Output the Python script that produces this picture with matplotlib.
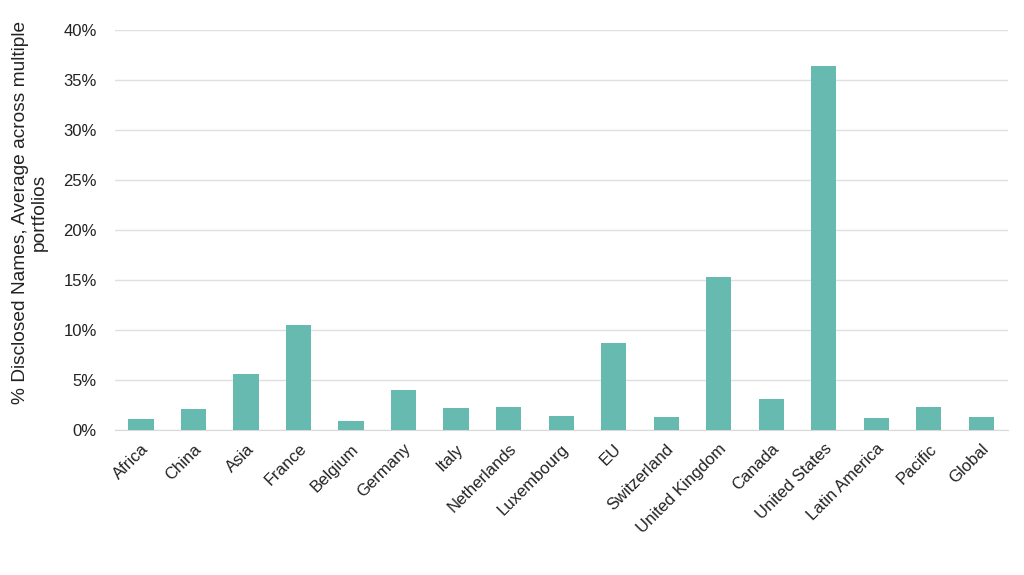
import matplotlib
matplotlib.use("Agg")
import matplotlib.pyplot as plt
from matplotlib.ticker import PercentFormatter

regions = ["Africa", "China", "Asia", "France", "Belgium", "Germany", "Italy",
           "Netherlands", "Luxembourg", "EU", "Switzerland", "United Kingdom",
           "Canada", "United States", "Latin America", "Pacific", "Global"]
disclosed = [1.1, 2.1, 5.65, 10.5, 0.9, 4.0, 2.2, 2.3, 1.45, 8.7, 1.3, 15.3,
             3.15, 36.4, 1.2, 2.3, 1.3]

plt.rcParams['font.family'] = ['Liberation Sans', 'DejaVu Sans']

fig = plt.figure(figsize=(10.24, 5.75), dpi=100)
ax = fig.add_axes([0.112, 0.252, 0.872, 0.696])

x = range(len(regions))
ax.bar(x, disclosed, width=0.48, color='#66bab0', zorder=3)

ax.set_xlim(-0.5, len(regions) - 0.5)
ax.set_ylim(0, 40)
ax.set_yticks(range(0, 41, 5))
ax.yaxis.set_major_formatter(PercentFormatter(decimals=0))
ax.grid(axis='y', color='#e0e0e0', linewidth=1, zorder=0)

ax.set_xticks(list(x))
ax.set_xticklabels(regions, rotation=45, ha='right', rotation_mode='anchor')
ax.tick_params(axis='both', length=0, labelsize=12, colors='#222222')
ax.tick_params(axis='x', pad=8)
ax.tick_params(axis='y', pad=13)

for s in ['top', 'right', 'left']:
    ax.spines[s].set_visible(False)
ax.spines['bottom'].set_color('#d9d9d9')

ax.set_ylabel('% Disclosed Names, Average across multiple\nportfolios',
              fontsize=13.8, color='#222222', linespacing=1.15)
ax.yaxis.set_label_coords(-0.075, 0.545)

fig.savefig('out.png', dpi=100)
